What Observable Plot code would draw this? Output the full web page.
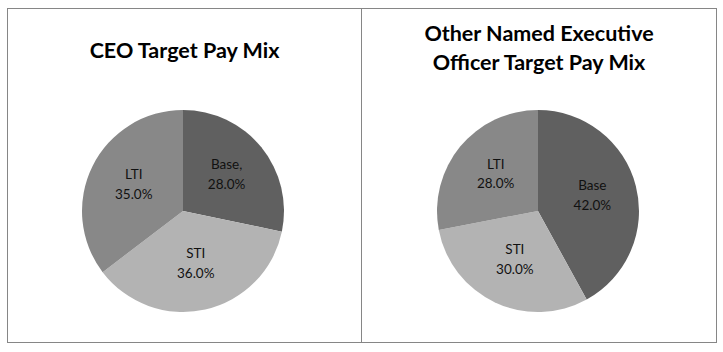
<!DOCTYPE html>
<html>
<head>
<meta charset="utf-8">
<script src="https://cdn.jsdelivr.net/npm/d3@7"></script>
<script src="https://cdn.jsdelivr.net/npm/@observablehq/plot@0.6"></script>
<style>
  html, body { margin: 0; padding: 0; background: #fff; }
  body { width: 723px; height: 352px; position: relative; overflow: hidden; font-family: Lato, "Open Sans", sans-serif; }
  .panel { position: absolute; top: 8px; height: 335px; box-sizing: border-box; border: 1px solid #868686; background: #fff; }
  .panel svg { position: absolute; left: 0; top: 0; }
  .title { position: absolute; left: 0; right: 0; text-align: center; font-weight: bold; font-size: 21.5px; line-height: 29px; color: #000; z-index: 2; }
</style>
</head>
<body>
<div class="panel" id="left" style="left:7px; width:355px;">
  <div class="title" style="top:27px;">CEO Target Pay Mix</div>
</div>
<div class="panel" id="right" style="left:361px; width:356px;">
  <div class="title" style="top:10px;">Other Named Executive<br>Officer Target Pay Mix</div>
</div>
<script>
// ---- data ----
const categories = ["Base", "STI", "LTI"];
const ceoLabels = ["Base,", "STI", "LTI"];
const ceoValues = [28.0, 36.0, 35.0];
const neoLabels = ["Base", "STI", "LTI"];
const neoValues = [42.0, 30.0, 28.0];
const sliceColors = ["#606060", "#b3b3b3", "#888888"];

const color = Plot.scale({color: {type: "ordinal", domain: categories, range: sliceColors}});

function pieChart(labels, values, opts) {
  const data = categories.map((c, i) => ({category: c, label: labels[i], value: values[i]}));
  const arcs = d3.pie().sort(null).value(d => d.value)(data);
  const LABEL_R = 0.55;
  const rows = arcs.map(a => {
    const mid = (a.startAngle + a.endAngle) / 2;
    return {
      ...a.data,
      start: a.startAngle,
      end: a.endAngle,
      lx: LABEL_R * Math.sin(mid),
      ly: LABEL_R * Math.cos(mid)
    };
  });
  return Plot.plot({
    width: opts.width,
    height: 333,
    marginLeft: opts.marginLeft,
    marginRight: opts.marginRight,
    marginTop: 101,
    marginBottom: 30,
    style: {fontFamily: "Lato, 'Open Sans', sans-serif", background: "transparent"},
    x: {domain: [-1, 1], axis: null},
    y: {domain: [-1, 1], axis: null},
    marks: [
      (index, scales) => {
        const cx = scales.x(0), cy = scales.y(0);
        const r = scales.x(1) - scales.x(0);
        const arc = d3.arc().innerRadius(0).outerRadius(r);
        const g = d3.create("svg:g").attr("transform", `translate(${cx},${cy})`);
        g.selectAll("path")
          .data(rows)
          .join("path")
          .attr("d", d => arc({startAngle: d.start, endAngle: d.end}))
          .attr("fill", d => color.apply(d.category));
        return g.node();
      },
      Plot.text(rows, {
        x: "lx",
        y: "ly",
        dy: -4,
        text: d => `${d.label}\n${d.value.toFixed(1)}%`,
        fontSize: 13.5,
        lineHeight: 1.45,
        fill: "#111"
      })
    ]
  });
}

document.getElementById("left").appendChild(
  pieChart(ceoLabels, ceoValues, {width: 353, marginLeft: 74, marginRight: 77})
);
document.getElementById("right").appendChild(
  pieChart(neoLabels, neoValues, {width: 354, marginLeft: 75, marginRight: 77})
);
</script>
</body>
</html>
